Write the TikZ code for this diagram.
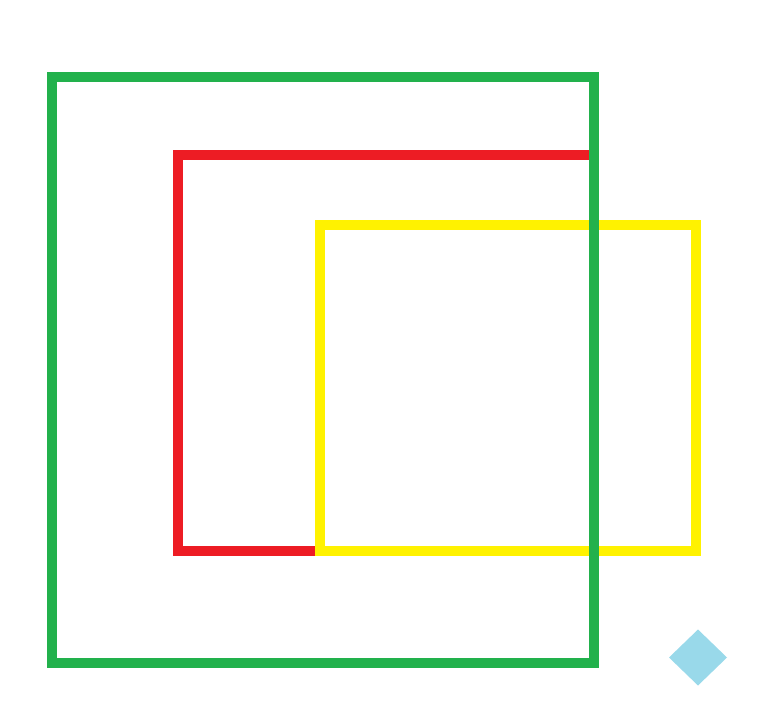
\documentclass[tikz,border=0pt]{standalone}
\usetikzlibrary{calc}
\definecolor{pgreen}{RGB}{34,177,76}
\definecolor{pred}{RGB}{237,28,36}
\definecolor{pyellow}{RGB}{255,242,0}
\definecolor{pblue}{RGB}{153,217,234}
\tikzset{frame/.style={line width=10pt, line join=miter}}
\begin{document}
\begin{tikzpicture}[x=1pt,y=-1pt]
\useasboundingbox (0,0) rectangle (764,727);
\coordinate (r1) at (177.7,155);
\coordinate (r2) at (594,550.7);
\coordinate (y1) at (320,225);
\coordinate (y2) at (696,550.7);
\coordinate (g1) at (52,77);
\coordinate (g2) at (594,662.7);
\coordinate (d) at (698,657.5);
\draw[frame, pred] (r1) rectangle (r2);
\draw[frame, pyellow] (y1) rectangle (y2);
\draw[frame, pgreen] (g1) rectangle (g2);
\fill[pblue] ($(d)+(-29,0)$) -- ($(d)+(0,-28)$) -- ($(d)+(29,0)$) -- ($(d)+(0,28)$) -- cycle;
\end{tikzpicture}
\end{document}
